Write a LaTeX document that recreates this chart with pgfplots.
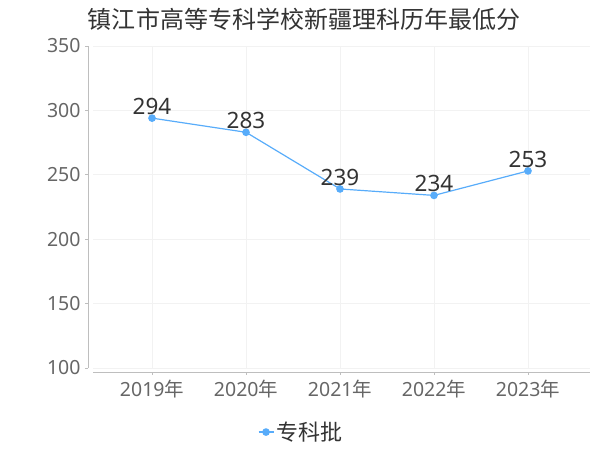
\documentclass[border=0pt]{standalone}
\usepackage{fontspec}
\usepackage{pgfplots}
\pgfplotsset{compat=1.18}
\setmainfont{Noto Sans}
\newfontfamily\cjk{Noto Sans CJK SC}
\definecolor{linec}{RGB}{88,172,250}
\definecolor{txt}{RGB}{51,51,51}
\definecolor{ticktxt}{RGB}{102,102,102}
\definecolor{axc}{RGB}{190,190,190}
\definecolor{gridc}{RGB}{242,242,242}
\begin{document}
\begin{tikzpicture}[x=1bp,y=1bp]
\path[use as bounding box] (0,0) rectangle (600,450);
\node[font={\cjk\fontsize{24bp}{28bp}\selectfont}, text=txt] at (304,431) {镇江市高等专科学校新疆理科历年最低分};
\begin{axis}[
  at={(93bp,82bp)}, anchor=south west,
  scale only axis,
  width=497bp, height=322bp,
  xmin=-0.628, xmax=4.66,
  ymin=100, ymax=350,
  xtick={0,1,2,3,4},
  xticklabels={2019{\cjk 年},2020{\cjk 年},2021{\cjk 年},2022{\cjk 年},2023{\cjk 年}},
  ytick={100,150,200,250,300,350},
  axis x line*=bottom, axis y line*=left,
  axis x line shift=4bp, axis y line shift=5bp,
  axis line style={draw=axc, line width=0.8bp, -},
  tick style={draw=axc, line width=0.8bp},
  tick align=outside, major tick length=3bp,
  grid=major, grid style={draw=gridc, line width=0.8bp},
  ticklabel style={font=\fontsize{19.5bp}{23bp}\selectfont, text=ticktxt},
  /pgf/number format/assume math mode=true,
  yticklabel style={xshift=-1bp},
  xticklabel style={yshift=-2bp},
  legend style={at={(0.4185,-0.199)}, anchor=center, draw=none, fill=none,
    font={\cjk\fontsize{22bp}{26bp}\selectfont}, text=txt, inner sep=0pt},
  legend image code/.code={\draw[#1,mark repeat=2,mark phase=2] plot coordinates {(0bp,0bp) (7.5bp,0bp) (15bp,0bp)};},
  nodes near coords,
  every node near coord/.append style={font=\fontsize{22.5bp}{26bp}\selectfont, text=txt, inner sep=1bp, yshift=2bp},
]
\addplot[color=linec, line width=1.2bp, mark=*, mark size=3.2bp, mark options={fill=linec, draw=linec}]
  coordinates {(0,294) (1,283) (2,239) (3,234) (4,253)};
\addlegendentry{专科批}
\end{axis}
\end{tikzpicture}
\end{document}
